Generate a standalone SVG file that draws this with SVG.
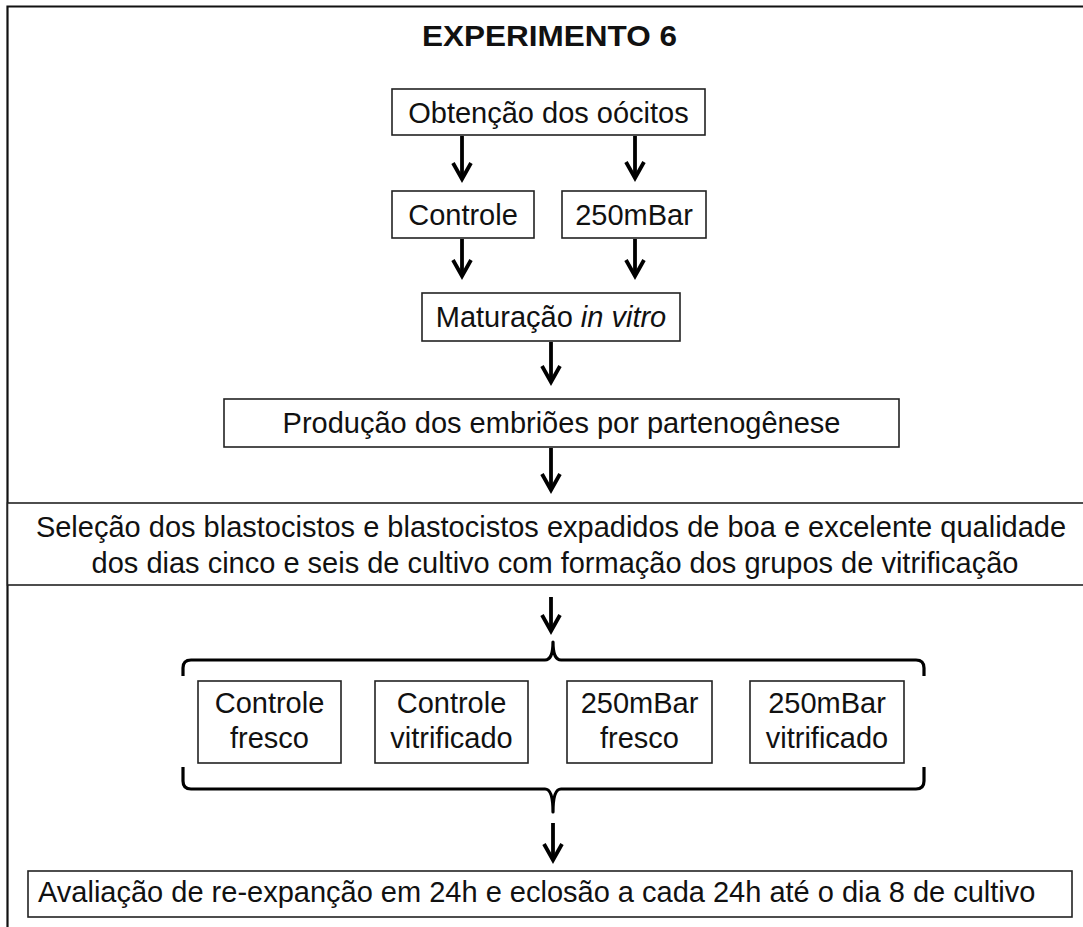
<svg xmlns="http://www.w3.org/2000/svg" width="1083" height="927" viewBox="0 0 1083 927">
<style>
.box{fill:#fff;stroke:#222;stroke-width:1.6}
.t{font-family:"Liberation Sans",Arial,sans-serif;font-size:29px;fill:#111;text-anchor:middle}
.b{font-weight:bold;font-size:30px}
.arr{fill:none;stroke:#000;stroke-width:3.8;marker-end:url(#ah)}
.br{fill:none;stroke:#000;stroke-width:3.2;stroke-linejoin:round}
</style>
<defs>
<marker id="ah" markerUnits="userSpaceOnUse" viewBox="-22 -13 26 26" refX="0" refY="0" markerWidth="26" markerHeight="26" orient="auto">
<path d="M-16,-9 L0,0 L-16,9" fill="none" stroke="#000" stroke-width="3.8" stroke-linejoin="miter"/>
</marker>
</defs>
<rect width="1083" height="927" fill="#fff"/>
<g id="frame">
<path d="M7.5,927 V6.5 H1083" fill="none" stroke="#111" stroke-width="2.2"/>
</g>
<g id="title"><text class="t b" x="549.5" y="46" textLength="255" lengthAdjust="spacingAndGlyphs">EXPERIMENTO 6</text></g>
<g id="obtencao"><rect class="box" x="392" y="89" width="313" height="46"/><text class="t" x="548.5" y="123">Obtenção dos oócitos</text></g>
<g id="controle"><rect class="box" x="392" y="191" width="142" height="47"/><text class="t" x="463" y="225">Controle</text></g>
<g id="mbar250"><rect class="box" x="562" y="191" width="144" height="47"/><text class="t" x="634" y="225">250mBar</text></g>
<g id="maturacao"><rect class="box" x="422" y="293" width="258" height="48"/><text class="t" x="551" y="327">Maturação <tspan font-style="italic">in vitro</tspan></text></g>
<g id="producao"><rect class="box" x="224" y="399" width="675" height="48"/><text class="t" x="561.5" y="433">Produção dos embriões por partenogênese</text></g>
<g id="selecao"><rect class="box" x="7.5" y="503" width="1090" height="82"/>
<text class="t" x="551" y="537">Seleção dos blastocistos e blastocistos expadidos de boa e excelente qualidade</text>
<text class="t" x="555" y="573">dos dias cinco e seis de cultivo com formação dos grupos de vitrificação</text></g>
<g id="cf"><rect class="box" x="198" y="681" width="143" height="82"/><text class="t" x="269.5" y="713">Controle</text><text class="t" x="269.5" y="748">fresco</text></g>
<g id="cv"><rect class="box" x="375" y="681" width="153" height="82"/><text class="t" x="451.5" y="713">Controle</text><text class="t" x="451.5" y="748">vitrificado</text></g>
<g id="mf"><rect class="box" x="567" y="681" width="145" height="82"/><text class="t" x="639.5" y="713">250mBar</text><text class="t" x="639.5" y="748">fresco</text></g>
<g id="mv"><rect class="box" x="750" y="681" width="154" height="82"/><text class="t" x="827" y="713">250mBar</text><text class="t" x="827" y="748">vitrificado</text></g>
<g id="avaliacao"><rect class="box" x="28" y="871" width="1044" height="46"/><text class="t" x="38" y="902" style="text-anchor:start">Avaliação de re-expanção em 24h e eclosão a cada 24h até o dia 8 de cultivo</text></g>
<g id="connectors">
<path class="arr" d="M462,136 V179"/>
<path class="arr" d="M635,136 V178"/>
<path class="arr" d="M462,239 V276"/>
<path class="arr" d="M635,239 V276"/>
<path class="arr" d="M551,342 V382"/>
<path class="arr" d="M551,448 V490"/>
<path class="arr" d="M551,597 V631"/>
<path class="arr" d="M553,823 V860"/>
<path class="br" d="M183,676 V668 Q183,660 191,660 H545 Q553,660 553,642 Q553,660 561,660 H916 Q924,660 924,668 V676"/>
<path class="br" d="M183,767 V781 Q183,789 191,789 H545 Q553,789 553,812 Q553,789 561,789 H916 Q924,789 924,781 V767"/>
</g>
</svg>
